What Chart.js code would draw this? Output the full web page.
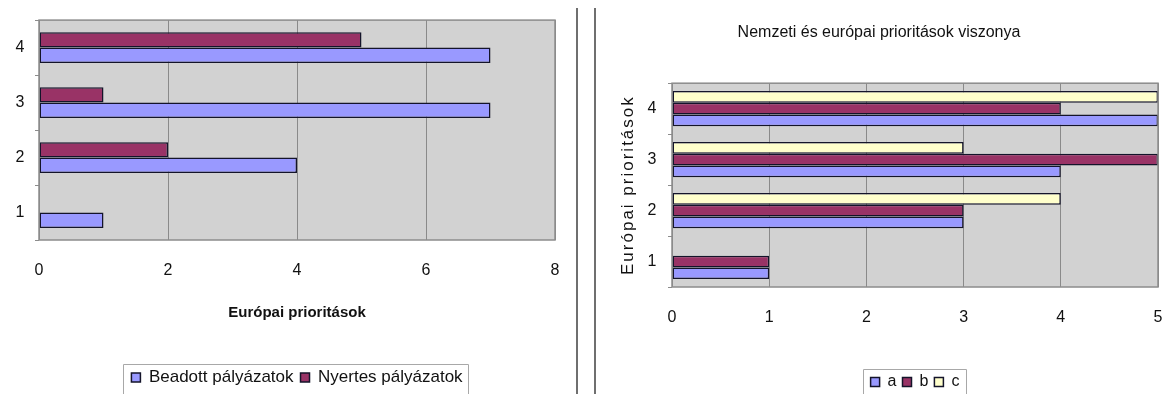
<!DOCTYPE html>
<html>
<head>
<meta charset="utf-8">
<script src="https://cdn.jsdelivr.net/npm/chart.js@4.4.0/dist/chart.umd.min.js"></script>
<style>
  body { margin: 0; background: #fff; width: 1163px; height: 394px; overflow: hidden; position: relative; }
  #leftChart { position: absolute; left: 0; top: 0; }
  #rightChart { position: absolute; left: 600px; top: 0; }
  .divider { position: absolute; top: 8px; height: 386px; width: 2px; background: #6f6f6f; }
</style>
</head>
<body>
<canvas id="leftChart" width="570" height="394"></canvas>
<div class="divider" style="left:576px"></div>
<div class="divider" style="left:594px"></div>
<canvas id="rightChart" width="563" height="394"></canvas>
<script>
// categories (top to bottom, as in the picture)
const priorityLabels = ["4", "3", "2", "1"];

// left chart: Beadott / Nyertes pályázatok
const submitted = [7, 7, 4, 1];
const won = [5, 1, 2, 0];
const leftTicks = [0, 2, 4, 6, 8];

// right chart: a / b / c
const seriesA = [5, 4, 3, 1];
const seriesB = [4, 5, 3, 1];
const seriesC = [5, 3, 4, 0];
const rightTicks = [0, 1, 2, 3, 4, 5];

const BLUE = "#9999ff";
const MAROON = "#993366";
const YELLOW = "#ffffcc";
const EDGE = "#14142a";
const FONT = "'Liberation Sans', Arial, sans-serif";

// gray plot background + frame, legend centred on plot and boxed
const plotFrame = {
  id: "plotFrame",
  beforeDraw(chart) {
    const { ctx, chartArea: a } = chart;
    ctx.save();
    ctx.fillStyle = "#d2d2d2";
    ctx.fillRect(a.left, a.top, a.right - a.left, a.bottom - a.top);
    ctx.restore();
  },
  afterLayout(chart) {
    const lg = chart.legend;
    const a = chart.chartArea;
    lg.left = a.left;
    lg.right = a.right;
    lg.width = a.right - a.left;
    if (lg.adjustHitBoxes) lg.adjustHitBoxes();
  },
  afterDraw(chart) {
    const { ctx, chartArea: a } = chart;
    ctx.save();
    ctx.strokeStyle = "#8c8c8c";
    ctx.lineWidth = 1.5;
    ctx.strokeRect(a.left, a.top, a.right - a.left, a.bottom - a.top);

    // box round the legend, measured from its items
    const lg = chart.legend;
    const lab = lg.options.labels;
    const size = lab.font.size;
    ctx.font = size + "px " + FONT;
    const items = lg.legendItems || [];
    let total = 0;
    items.forEach((it, i) => {
      total += lab.boxWidth + size / 2 + ctx.measureText(it.text).width;
      if (i > 0) total += lab.padding;
    });
    const cx = (lg.left + lg.right) / 2;
    const x0 = Math.round(cx - total / 2 - 8) + 0.5;
    const w = Math.round(total + 14);
    const y0 = Math.round(lg.top + lab.padding - 5) + 0.5;
    ctx.beginPath();
    ctx.strokeStyle = "#a8a8a8";
    ctx.lineWidth = 1;
    ctx.rect(x0, y0, w, 40);
    ctx.stroke();
    ctx.restore();
  }
};

function barSet(label, data, color) {
  return {
    label,
    data,
    backgroundColor: color,
    borderColor: EDGE,
    borderWidth: 1.5,
    borderSkipped: false
  };
}

// keep the x scale from reserving room for its end labels
function noSidePadding(scale) {
  scale.paddingLeft = 0;
  scale.paddingRight = 0;
}

// Left chart
new Chart(document.getElementById("leftChart"), {
  type: "bar",
  data: {
    labels: priorityLabels,
    datasets: [
      barSet("Nyertes pályázatok", won, MAROON),
      barSet("Beadott pályázatok", submitted, BLUE)
    ]
  },
  options: {
    indexAxis: "y",
    responsive: false,
    animation: false,
    devicePixelRatio: 1,
    categoryPercentage: 0.56,
    barPercentage: 1,
    layout: { padding: { left: 0, right: 15, top: 18, bottom: -2 } },
    plugins: {
      legend: {
        position: "bottom",
        reverse: true,
        labels: {
          color: "#111",
          font: { family: FONT, size: 17 },
          boxWidth: 9,
          boxHeight: 9,
          padding: 7
        }
      },
      tooltip: { enabled: false }
    },
    scales: {
      x: {
        min: leftTicks[0],
        max: leftTicks[leftTicks.length - 1],
        ticks: {
          stepSize: leftTicks[1] - leftTicks[0],
          color: "#111",
          padding: 21,
          font: { family: FONT, size: 16 }
        },
        grid: { color: "#8a8a8a", lineWidth: 1, drawTicks: false },
        border: { display: false },
        title: {
          display: true,
          text: "Európai prioritások",
          color: "#111",
          font: { family: FONT, size: 15, weight: "bold" },
          padding: { top: 0, bottom: 40 }
        },
        afterFit(scale) {
          scale.height = 122;
          noSidePadding(scale);
        }
      },
      y: {
        ticks: { color: "#111", padding: 10.5, font: { family: FONT, size: 16 } },
        grid: { drawOnChartArea: false, drawTicks: true, tickLength: 4, color: "#8c8c8c" },
        border: { display: false },
        afterFit(scale) { scale.width = 39; }
      }
    }
  },
  plugins: [plotFrame]
});

// Right chart
new Chart(document.getElementById("rightChart"), {
  type: "bar",
  data: {
    labels: priorityLabels,
    datasets: [
      barSet("c", seriesC, YELLOW),
      barSet("b", seriesB, MAROON),
      barSet("a", seriesA, BLUE)
    ]
  },
  options: {
    indexAxis: "y",
    responsive: false,
    animation: false,
    devicePixelRatio: 1,
    categoryPercentage: 0.69,
    barPercentage: 1,
    layout: { padding: { left: 0, right: 5, top: 0, bottom: -6 } },
    plugins: {
      title: {
        display: true,
        text: "Nemzeti és európai prioritások viszonya",
        color: "#111",
        font: { family: FONT, size: 16, weight: "normal" },
        padding: { top: 23, bottom: 41 }
      },
      legend: {
        position: "bottom",
        reverse: true,
        labels: {
          color: "#111",
          font: { family: FONT, size: 16 },
          boxWidth: 9,
          boxHeight: 9,
          padding: 6
        }
      },
      tooltip: { enabled: false }
    },
    scales: {
      x: {
        min: rightTicks[0],
        max: rightTicks[rightTicks.length - 1],
        ticks: {
          stepSize: rightTicks[1] - rightTicks[0],
          color: "#111",
          padding: 21,
          font: { family: FONT, size: 16 }
        },
        grid: { color: "#8a8a8a", lineWidth: 1, drawTicks: false },
        border: { display: false },
        afterFit(scale) {
          scale.height = 81;
          noSidePadding(scale);
        }
      },
      y: {
        ticks: { color: "#111", padding: 11.5, font: { family: FONT, size: 16 } },
        grid: { drawOnChartArea: false, drawTicks: true, tickLength: 4, color: "#8c8c8c" },
        border: { display: false },
        title: {
          display: true,
          text: "Európai prioritások",
          color: "#111",
          font: { family: FONT, size: 17 },
          padding: { top: 18, bottom: 0 }
        },
        afterFit(scale) { scale.width = 72; },
        afterUpdate(scale) {
          // the axis title in the picture is letter-spaced
          if (!scale._spaced) {
            const drawTitle = scale.drawTitle.bind(scale);
            scale.drawTitle = function () {
              const prev = this.ctx.letterSpacing;
              this.ctx.letterSpacing = "2px";
              drawTitle();
              this.ctx.letterSpacing = prev;
            };
            scale._spaced = true;
          }
        }
      }
    }
  },
  plugins: [plotFrame]
});
</script>
</body>
</html>
